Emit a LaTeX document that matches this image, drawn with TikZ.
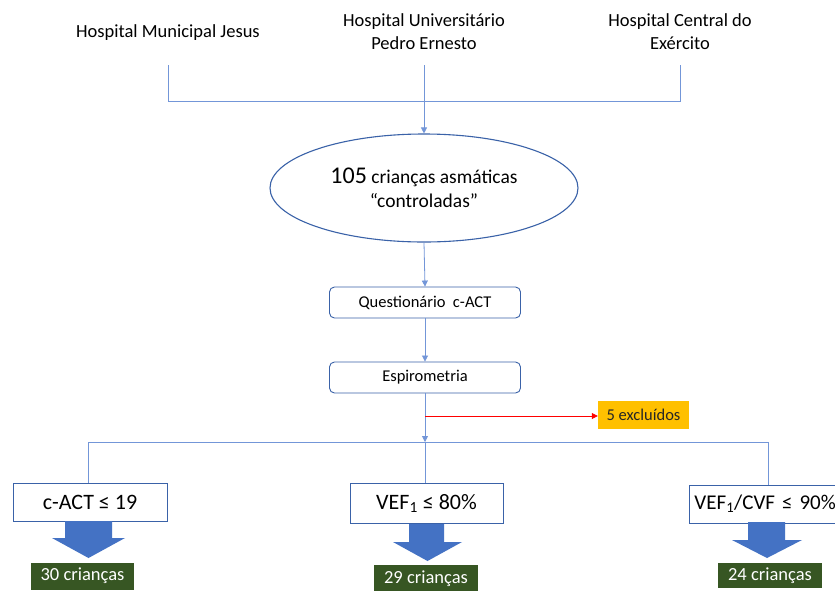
\documentclass[tikz,border=0pt]{standalone}
\usepackage{fontspec}
\setmainfont{Carlito}
\usetikzlibrary{shapes.geometric,arrows.meta}
\definecolor{ln}{HTML}{7396D8}
\definecolor{bd}{HTML}{3A62A8}
\definecolor{bigarrow}{HTML}{4472C4}
\definecolor{grn}{HTML}{375623}
\definecolor{org}{HTML}{FFC000}
\begin{document}
\begin{tikzpicture}[x=1pt,y=-1pt,
  hosp/.style={align=center,font=\fontsize{18.5}{23}\selectfont,inner sep=0pt},
  conn/.style={draw=ln,line width=0.8pt},
  arr/.style={conn,-{Triangle[length=6pt,width=6pt]}},
  stepbox/.style={draw=bd,line width=0.9pt,rounded corners=5pt,minimum width=191pt,minimum height=31pt,inner sep=0pt,font=\fontsize{16.5}{20}\selectfont},
  critbox/.style={draw=bd,line width=0.9pt,fill=white,minimum height=38pt,inner sep=0pt,font=\fontsize{22}{26}\selectfont},
  resbox/.style={fill=grn,text=white,minimum width=103pt,minimum height=27pt,inner sep=0pt,font=\fontsize{18.5}{22}\selectfont},
  bigarr/.style={fill=bigarrow,draw=none}
]
\clip (0,0) rectangle (835,590);
\fill[white] (0,0) rectangle (835,590);

% hospitals
\node[hosp] (h1) at (168,33) {Hospital Municipal Jesus};
\node[hosp] (h2) at (424,32) {Hospital Universitário\\Pedro Ernesto};
\node[hosp] (h3) at (680,32) {Hospital Central do\\Exército};
\coordinate (h1b) at (168,65);
\coordinate (h2b) at (424,65);
\coordinate (h3b) at (680,65);
\coordinate (j1) at (424,101);

% ellipse
\node[ellipse,draw=bd,line width=1.1pt,minimum width=308pt,minimum height=108pt,inner sep=0pt,align=center,font=\fontsize{19.5}{23.5}\selectfont] (ell) at (424,188)
  {{\fontsize{24}{24}\selectfont 105} crianças asmáticas\\“controladas”};

\node[stepbox] (q) at (425,302.5) {Questionário\ \ c-ACT};
\node[stepbox] (e) at (425,377.5) {Espirometria};

\node[fill=org,minimum width=91pt,minimum height=28pt,inner sep=0pt,font=\fontsize{16.5}{20}\selectfont,text=black!85] (ex) at (643.5,415) {5 excluídos};
\coordinate (j2) at (425,442);
\coordinate (r) at (425,416);

% criteria boxes
\node[critbox,minimum width=154pt] (b1) at (90,502) {c-ACT ≤ 19};
\node[critbox,minimum width=153pt,minimum height=40pt] (b2) at (426.5,503.5) {VEF\textsubscript{1} ≤ 80\%};
\node[critbox,anchor=west,inner xsep=5pt,text width=190pt,align=left,font=\fontsize{21}{25}\selectfont] (b3) at (689,504) {VEF\textsubscript{1}/CVF ≤ 90\%};

% results
\node[resbox] (r1) at (82.5,576) {30 crianças};
\node[resbox,minimum width=104pt] (r2) at (426,578.5) {29 crianças};
\node[resbox,minimum width=104pt,minimum height=25pt] (r3) at (770,575.5) {24 crianças};

% connectors
\draw[conn] (h1b) -- (168,101) -- (680,101) -- (h3b);
\draw[conn] (h2b) -- (j1);
\draw[arr] (j1) -- (ell.north);
\draw[arr] (ell.south) -- (q.north);
\draw[arr] (q.south) -- (e.north);
\draw[arr] (e.south) -- (j2);
\draw[draw=red,line width=0.8pt,-{Triangle[length=6pt,width=6pt]}] (r) -- (r -| ex.west);
\draw[conn] (b1.north -| 88,0) -- (88,442) -- (768,442) -- (b3.north -| 768,0);
\draw[conn] (j2) -- (b2.north -| j2);

% big arrows
\fill[bigarr] (65,521) -- (112,521) -- (112,538) -- (125,538) -- (88.5,558) -- (52,538) -- (65,538) -- cycle;
\fill[bigarr] (409,524) -- (444,524) -- (444,542) -- (462,542) -- (427.5,561) -- (393,542) -- (409,542) -- cycle;
\fill[bigarr] (748,522) -- (785,522) -- (785,540) -- (802,540) -- (767,558) -- (732,540) -- (748,540) -- cycle;
\end{tikzpicture}
\end{document}
